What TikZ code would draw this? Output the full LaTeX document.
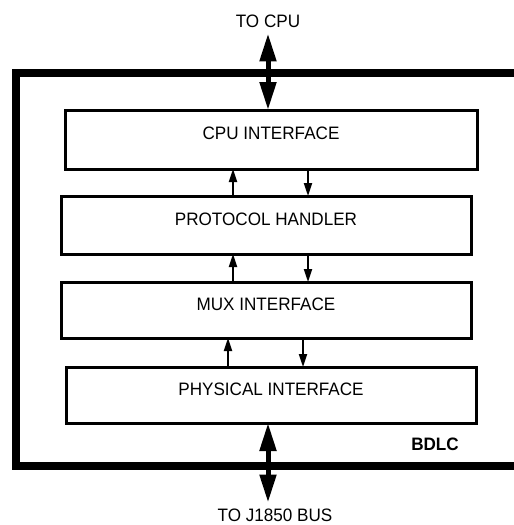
\documentclass[tikz,border=0pt]{standalone}
\usepackage{fontspec}
\setmainfont{Liberation Sans}[FakeStretch=0.95]
\usetikzlibrary{arrows.meta,positioning}
\newcommand{\lblfont}{\fontsize{18}{20}\selectfont}
\tikzset{
  blk/.style={draw,line width=3pt,rectangle,inner sep=0pt,outer sep=0pt,
    font=\lblfont,text height=13pt,text depth=12.5pt},
  ar/.style={line width=2pt,-{Triangle[length=13pt,width=8pt]}},
  bigar/.style={line width=5pt,
    {Triangle[length=28pt,width=16pt]}-{Triangle[length=28pt,width=16pt]}},
  tag/.style={font=\lblfont,inner sep=0pt,text depth=0pt},
}

\begin{document}
\begin{tikzpicture}[x=1pt,y=-1pt]
  \useasboundingbox (0,0) rectangle (514,525);
  % outer frame of the BDLC, open to the right
  \draw[line width=8pt] (514,73) -- (16,73) -- (16,466) -- (514,466);
  \node[blk,minimum width=412pt,minimum height=59pt] (cpu) at (271,139.5) {CPU INTERFACE};
  \node[blk,minimum width=410pt,minimum height=58pt] (proto) at (266,225) {PROTOCOL HANDLER};
  \node[blk,minimum width=410pt,minimum height=56pt] (mux) at (266,310) {MUX INTERFACE};
  \node[blk,minimum width=410pt,minimum height=56pt] (phy) at (271,395) {PHYSICAL INTERFACE};
  \node[tag] (tocpu) at (268,21) {TO CPU};
  \node[tag] (tobus) at (275,515) {TO J1850 BUS};
  \node[tag,font=\lblfont\bfseries] (bdlc) at (435,444) {BDLC};
  \coordinate (busx) at (268,0);
  \draw[bigar,shorten <=6pt] (tocpu.south) -- (cpu.north -| tocpu.south);
  \draw[bigar,shorten >=6pt] (phy.south -| busx) -- (tobus.north -| busx);
  \foreach \u/\d/\hi/\lo in {233/308/cpu/proto,233/308/proto/mux,228/303/mux/phy} {
    \draw[ar] (\lo.north -| \u,0) -- (\hi.south -| \u,0);
    \draw[ar] (\hi.south -| \d,0) -- (\lo.north -| \d,0);
  }
\end{tikzpicture}
\end{document}
